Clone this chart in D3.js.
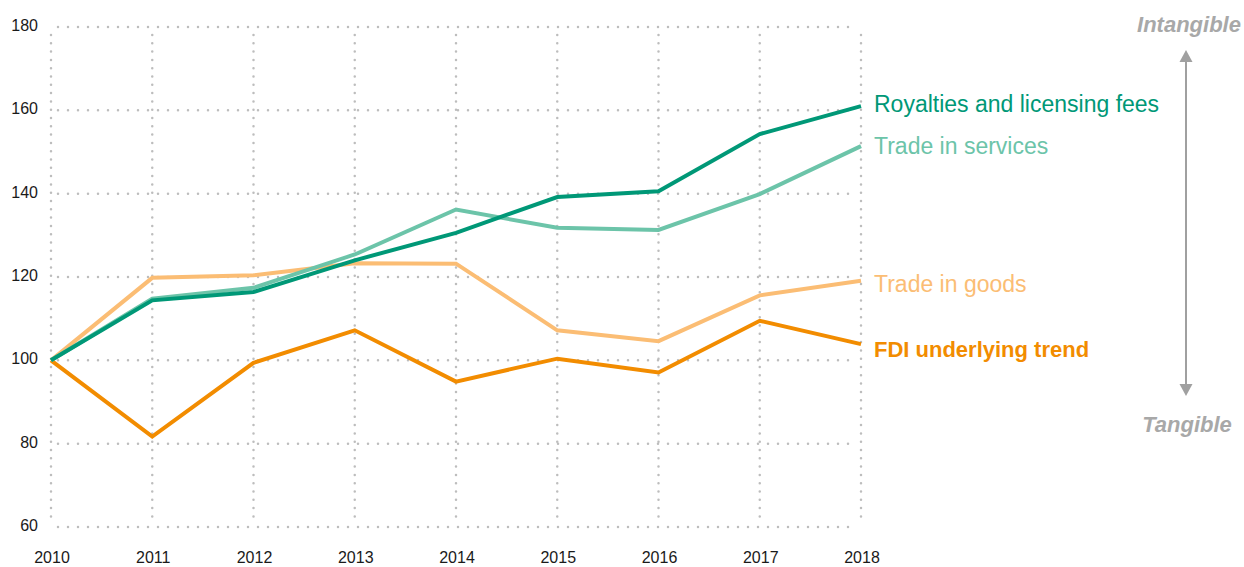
<!DOCTYPE html>
<html>
<head>
<meta charset="utf-8">
<script src="https://cdn.jsdelivr.net/npm/d3@7"></script>
<style>
  body { margin: 0; background: #fff; }
  .tick-label { font-family: "Liberation Sans", Arial, sans-serif; font-size: 16px; fill: #1a1a1a; }
  .series-label { font-family: "Liberation Sans", Arial, sans-serif; font-size: 23px; }
  .side-label { font-family: "Liberation Sans", Arial, sans-serif; font-size: 22px; font-weight: bold; font-style: italic; fill: #a8a8a8; }
</style>
</head>
<body>
<div id="chart"></div>
<script>
const width = 1244;
const height = 567;

const years = [2010, 2011, 2012, 2013, 2014, 2015, 2016, 2017, 2018];
const yTicks = [60, 80, 100, 120, 140, 160, 180];

const royalties = [100, 114.4, 116.4, 124.0, 130.6, 139.2, 140.6, 154.3, 161.0];
const services  = [100, 114.8, 117.4, 125.4, 136.2, 131.8, 131.3, 139.9, 151.4];
const goods     = [100, 119.8, 120.4, 123.3, 123.2, 107.2, 104.6, 115.6, 119.1];
const fdi       = [100, 81.7, 99.4, 107.2, 94.9, 100.4, 97.1, 109.5, 103.9];

const seriesNames = ["Royalties and licensing fees", "Trade in services", "Trade in goods", "FDI underlying trend"];
const seriesValues = [royalties, services, goods, fdi];
const colors = ["#009877", "#6cc4a9", "#fbbd74", "#f28c00"];
const labelDy = [6, 8, 11, 13];
const labelWeight = ["normal", "normal", "normal", "bold"];
const labelSize = [23, 23, 23, 22];

const svg = d3.select("#chart").append("svg")
   .attr("width", width)
   .attr("height", height);

const x = d3.scaleLinear()
   .domain([2010, 2018])
   .range([51, 861]);

const y = d3.scaleLinear()
   .domain([60, 180])
   .range([527, 27]);

// dotted grid
svg.append("g")
   .selectAll("line")
   .data(yTicks)
   .join("line")
   .attr("x1", x(2010) + 7)
   .attr("x2", x(2018) - 5)
   .attr("y1", d => y(d))
   .attr("y2", d => y(d))
   .attr("stroke", "#bdbdbd")
   .attr("stroke-width", 2.5)
   .attr("stroke-linecap", "round")
   .attr("stroke-dasharray", "0 10");

svg.append("g")
   .selectAll("line")
   .data(years)
   .join("line")
   .attr("x1", d => x(d))
   .attr("x2", d => x(d))
   .attr("y1", y(180) + 8)
   .attr("y2", y(60) - 10)
   .attr("stroke", "#bdbdbd")
   .attr("stroke-width", 2.5)
   .attr("stroke-linecap", "round")
   .attr("stroke-dasharray", "0 8.3");

// axis labels
svg.append("g")
   .selectAll("text")
   .data(yTicks)
   .join("text")
   .attr("class", "tick-label")
   .attr("x", 38)
   .attr("y", d => y(d) + 4)
   .style("text-anchor", "end")
   .text(d => d);

svg.append("g")
   .selectAll("text")
   .data(years)
   .join("text")
   .attr("class", "tick-label")
   .attr("x", d => x(d) + 1)
   .attr("y", 563)
   .style("text-anchor", "middle")
   .text(d => d);

// lines, drawn bottom to top
const line = d3.line()
   .x((d, i) => x(years[i]))
   .y(d => y(d));

const order = [3, 2, 1, 0];
order.forEach(k => {
   svg.append("path")
      .datum(seriesValues[k])
      .attr("fill", "none")
      .attr("stroke", colors[k])
      .attr("stroke-width", 4)
      .attr("stroke-linejoin", "miter")
      .attr("d", line);
});

// series labels
seriesNames.forEach((name, k) => {
   const vals = seriesValues[k];
   svg.append("text")
      .attr("class", "series-label")
      .attr("x", x(2018) + 13)
      .attr("y", y(vals[vals.length - 1]) + labelDy[k])
      .style("fill", colors[k])
      .style("font-weight", labelWeight[k])
      .style("font-size", labelSize[k] + "px")
      .text(name);
});

// intangible / tangible arrow
const ax = 1186;
svg.append("line")
   .attr("x1", ax).attr("x2", ax)
   .attr("y1", 58).attr("y2", 388)
   .attr("stroke", "#a0a0a0")
   .attr("stroke-width", 2);
svg.append("path")
   .attr("d", `M${ax},50 L${ax - 6.5},62 L${ax + 6.5},62 Z`)
   .attr("fill", "#a0a0a0");
svg.append("path")
   .attr("d", `M${ax},396 L${ax - 6.5},384 L${ax + 6.5},384 Z`)
   .attr("fill", "#a0a0a0");

svg.append("text")
   .attr("class", "side-label")
   .attr("x", 1189)
   .attr("y", 32)
   .style("text-anchor", "middle")
   .text("Intangible");
svg.append("text")
   .attr("class", "side-label")
   .attr("x", 1187)
   .attr("y", 432)
   .style("text-anchor", "middle")
   .text("Tangible");
</script>
</body>
</html>
